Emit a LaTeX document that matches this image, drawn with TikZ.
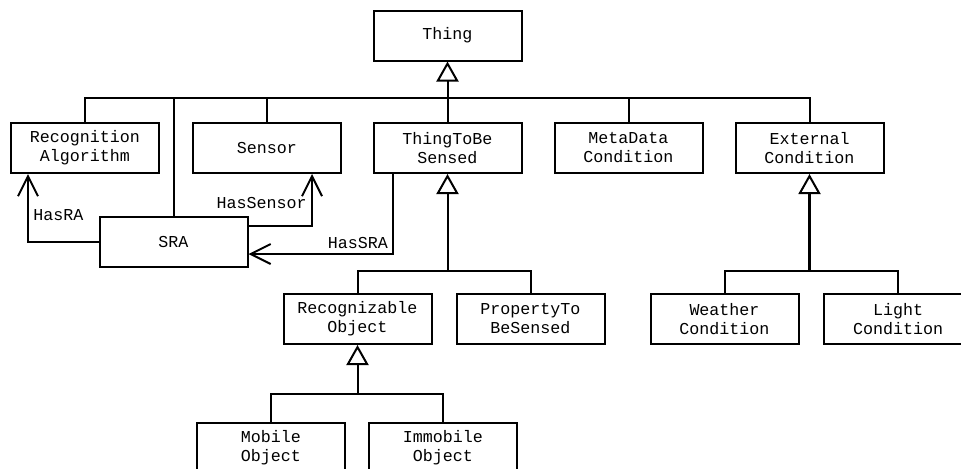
\documentclass[tikz,border=0pt]{standalone}
\usepackage{fontspec}
\setmonofont{Liberation Mono}
\usetikzlibrary{arrows.meta,calc}

\begin{document}
\begin{tikzpicture}[x=0.75pt, y=-0.75pt,
  every node/.style={font=\ttfamily\fontsize{12.5}{14.25}\selectfont},
  cls/.style={draw, line width=1.5pt, minimum width=111pt, minimum height=37.5pt, align=center, inner sep=0pt},
  link/.style={line width=1.5pt},
  inherit/.style={link, -{Triangle[open, length=15pt, width=16.5pt, line width=1.5pt]}},
  assoc/.style={link, -{Straight Barb[length=15pt, width=15pt]}}]
  \clip (0,0) rectangle (961,468);
  \useasboundingbox (0,0) rectangle (961,468);

  \node[cls] (thing) at (447.5, 35.5) {Thing};
  \node[cls] (ra) at (85, 148) {Recognition\\Algorithm};
  \node[cls] (sensor) at (267, 148) {Sensor};
  \node[cls] (tbs) at (447.5, 148) {ThingToBe\\Sensed};
  \node[cls] (meta) at (628.5, 148) {MetaData\\Condition};
  \node[cls] (ext) at (809.5, 148) {External\\Condition};
  \node[cls] (sra) at (173.5, 242) {SRA};
  \node[cls] (recog) at (357.5, 319) {Recognizable\\Object};
  \node[cls] (prop) at (530.5, 319) {PropertyTo\\BeSensed};
  \node[cls] (weather) at (724.5, 319) {Weather\\Condition};
  \node[cls] (light) at (898, 319) {Light\\Condition};
  \node[cls] (mobile) at (271, 448) {Mobile\\Object};
  \node[cls] (immobile) at (443, 448) {Immobile\\Object};

  % generalisation trees
  \coordinate (busT) at (447.5, 98);
  \draw[inherit] (tbs.north) -- (thing.south);
  \draw[link] (ra.north) |- (busT) -| (ext.north);
  \foreach \n in {sra, sensor, meta}
    \draw[link] (\n.north) -- (\n.north |- busT);

  \coordinate (busS) at (447.5, 271);
  \draw[inherit] (busS) -- (tbs.south);
  \draw[link] (recog.north) |- (busS) -| (prop.north);

  \coordinate (busR) at (357.5, 394);
  \draw[inherit] (busR) -- (recog.south);
  \draw[link] (mobile.north) |- (busR) -| (immobile.north);

  \coordinate (busE) at (809.5, 271);
  \draw[inherit, line width=2.2pt] (busE) -- (ext.south);
  \draw[link] (weather.north) |- (busE) -| (light.north);

  % associations
  \draw[assoc] (sra.west) -| ($(ra.south west)+(18,0)$)
    node[right, pos=0.7] {HasRA};
  \draw[assoc] ($(sra.north east)+(0,10)$) -| ($(sensor.south east)+(-30,0)$)
    node[left, pos=0.72] {HasSensor};
  \draw[assoc] ($(tbs.south west)+(20,0)$) |- ($(sra.south east)+(0,-14)$)
    node[above, pos=0.62] {HasSRA};
\end{tikzpicture}
\end{document}
